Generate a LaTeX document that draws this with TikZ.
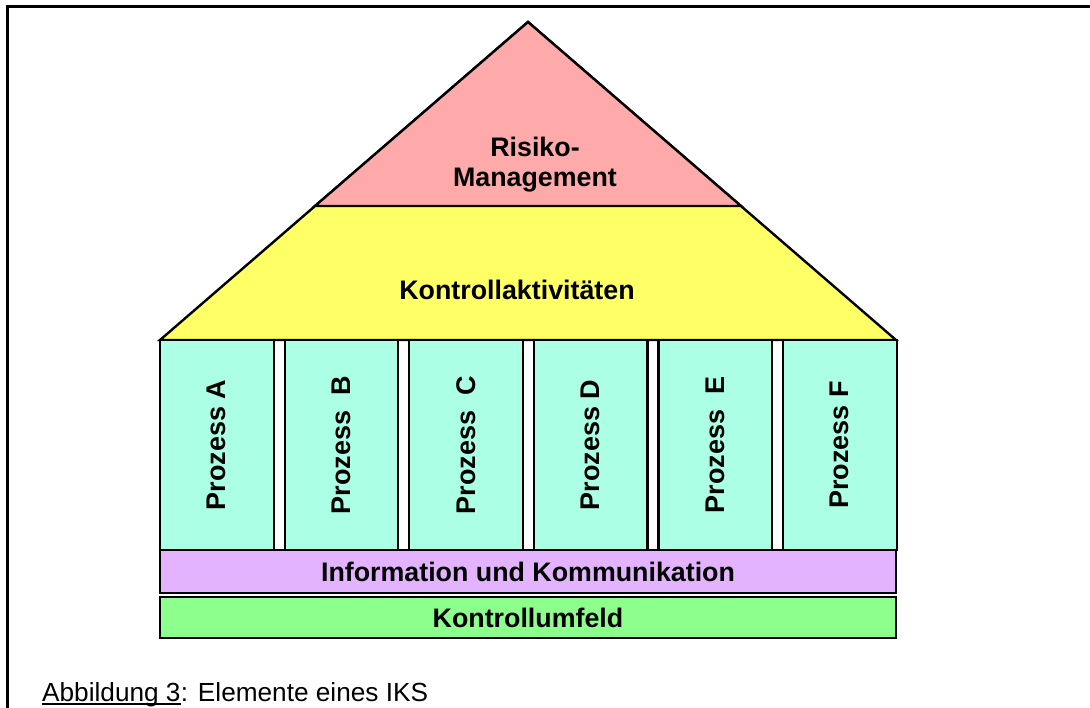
\documentclass[tikz,border=0pt]{standalone}
\usepackage{fontspec}
\setmainfont{Liberation Sans}
\definecolor{riskred}{RGB}{255,170,170}
\definecolor{ctrlyellow}{RGB}{255,255,102}
\definecolor{procmint}{RGB}{170,255,228}
\definecolor{infopurple}{RGB}{228,179,255}
\definecolor{envgreen}{RGB}{140,255,140}
\begin{document}
\begin{tikzpicture}[x=1pt,y=-1pt,
  edge/.style={draw=black,line width=2.4pt,line join=miter},
  lbl/.style={font=\fontsize{26.8}{30}\selectfont\bfseries,inner sep=0pt,align=center},
  pillar/.style={draw=black,line width=2.2pt,fill=procmint,minimum width=113.6pt,
    minimum height=210pt,inner sep=0pt,font=\fontsize{27}{30}\selectfont\bfseries},
  band/.style={draw=black,line width=2.4pt,minimum width=736pt,inner sep=0pt,
    font=\fontsize{26.8}{30}\selectfont\bfseries},
  caption/.style={font=\fontsize{26.2}{30}\selectfont,inner sep=0pt,anchor=base west}]
\useasboundingbox (0,0) rectangle (1090,708);
\fill[white] (0,0) rectangle (1090,708);
% frame
\draw[line width=3pt] (7,708) -- (7,7) -- (1090,7);
% roof
\filldraw[edge,fill=ctrlyellow] (528,22) -- (896,340) -- (160,340) -- cycle;
\filldraw[edge,fill=riskred] (528,22) -- (741,206) -- (315,206) -- cycle;
\node[lbl] (risk) at (535,165) {Risiko-\\Management};
\node[lbl] (ctrl) at (517,289.5) {Kontrollaktivitäten};
% pillars
\foreach \i/\n/\t in {0/A/{Prozess A},1/B/{Prozess~~B},2/C/{Prozess~~C},3/D/{Prozess D},4/E/{Prozess~~E},5/F/{Prozess F}}{
  \node[pillar] (p\n) at ({160+\i*124.6+56.8},445) {\rotatebox{90}{\t}};
}
% bands
\node[band,fill=infopurple,minimum height=43pt] (info) at (528,571.5) {Information und Kommunikation};
\node[band,fill=envgreen,minimum height=41pt] (env) at (528,617.5) {Kontrollumfeld};
% caption
\node[caption] (cap1) at (42,701) {Abbildung 3};
\node[caption] (cap2) at (cap1.base east) {: Elemente eines IKS};
\draw[line width=1.8pt] ([yshift=-2.6pt]cap1.base west) -- ([yshift=-2.6pt]cap1.base east);
\end{tikzpicture}
\end{document}
